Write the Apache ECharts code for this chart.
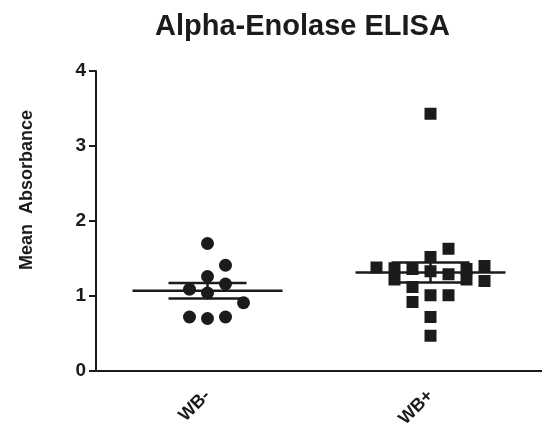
<!DOCTYPE html>
<html>
<head>
<meta charset="utf-8">
<script src="https://cdn.jsdelivr.net/npm/echarts@6/dist/echarts.min.js"></script>
<style>
  html, body { margin: 0; padding: 0; background: #fff; }
  #chart { width: 542px; height: 436px; }
</style>
</head>
<body>
<div id="chart"></div>
<script>
// values
const categories = ["WB-", "WB+"];
const wbMinus = [1.70, 1.41, 1.26, 1.16, 1.09, 1.04, 0.91, 0.72, 0.70, 0.72];
const wbPlus = [3.43, 1.63, 1.52, 1.38, 1.37, 1.22, 1.36, 1.12, 0.92, 1.33,
                1.01, 0.72, 0.47, 1.29, 1.01, 1.36, 1.22, 1.40, 1.20];
// column-scatter slot of each point (left/right of the column centre)
const wbMinusSlot = [0, 1, 0, 1, -1, 0, 2, -1, 0, 1];
const wbPlusSlot = [0, 1, 0, -3, -2, -2, -1, -1, -1, 0,
                    0, 0, 0, 1, 1, 2, 2, 3, 3];
const yTicks = [0, 1, 2, 3, 4];

const FONT = "'Liberation Sans', Arial, sans-serif";
const INK = "#1b1b1b";
const SLOT_PX = 18;

function mean(a) {
  return a.reduce(function (s, v) { return s + v; }, 0) / a.length;
}
function sem(a) {
  var m = mean(a);
  var ss = a.reduce(function (s, v) { return s + (v - m) * (v - m); }, 0);
  return Math.sqrt(ss / (a.length - 1)) / Math.sqrt(a.length);
}

function points(cat, vals, slots) {
  return vals.map(function (v, i) {
    return { value: [cat, v], symbolOffset: [slots[i] * SLOT_PX, 0] };
  });
}

var groups = [wbMinus, wbPlus];
var statData = groups.map(function (g, i) {
  return [i, mean(g), sem(g)];
});

var chart = echarts.init(document.getElementById("chart"), null, { renderer: "canvas" });

chart.setOption({
  animation: false,
  title: {
    text: "Alpha-Enolase ELISA",
    left: 155,
    top: 12,
    padding: 0,
    textStyle: { fontFamily: FONT, fontSize: 29, fontWeight: "bold", color: INK }
  },
  grid: { left: 96, top: 71, width: 448, height: 300, containLabel: false },
  xAxis: {
    type: "category",
    data: categories,
    boundaryGap: true,
    axisLine: { lineStyle: { color: INK, width: 2 } },
    axisTick: { alignWithLabel: true, length: 7, lineStyle: { color: INK, width: 2 } },
    axisLabel: {
      rotate: 45, margin: 22, color: INK,
      fontFamily: FONT, fontSize: 18, fontWeight: "bold"
    },
    splitLine: { show: false }
  },
  yAxis: {
    type: "value",
    min: yTicks[0],
    max: yTicks[yTicks.length - 1],
    interval: 1,
    name: "Mean  Absorbance",
    nameLocation: "middle",
    nameGap: 60,
    nameTextStyle: {
      fontFamily: FONT, fontSize: 18, fontWeight: "bold", color: INK,
      padding: [0, 0, 0, 62]
    },
    axisLine: { show: true, lineStyle: { color: INK, width: 2 } },
    axisTick: { show: true, length: 7, lineStyle: { color: INK, width: 2 } },
    axisLabel: { margin: 10, color: INK, fontFamily: FONT, fontSize: 19, fontWeight: "bold" },
    splitLine: { show: false }
  },
  series: [
    {
      type: "scatter",
      symbol: "circle",
      symbolSize: 13,
      itemStyle: { color: INK, opacity: 1 },
      data: points(0, wbMinus, wbMinusSlot),
      z: 2
    },
    {
      type: "scatter",
      symbol: "rect",
      symbolSize: 12,
      itemStyle: { color: INK, opacity: 1 },
      data: points(1, wbPlus, wbPlusSlot),
      z: 2
    },
    {
      // mean line with SEM error bar
      type: "custom",
      data: statData,
      z: 3,
      renderItem: function (params, api) {
        var c = api.value(0), m = api.value(1), e = api.value(2);
        var pm = api.coord([c, m]);
        var pt = api.coord([c, m + e]);
        var pb = api.coord([c, m - e]);
        var meanHalf = 75, capHalf = 39;
        var st = { stroke: INK, lineWidth: 2.5 };
        return {
          type: "group",
          children: [
            { type: "line", shape: { x1: pm[0] - meanHalf, y1: pm[1], x2: pm[0] + meanHalf, y2: pm[1] }, style: st },
            { type: "line", shape: { x1: pt[0], y1: pt[1], x2: pb[0], y2: pb[1] }, style: st },
            { type: "line", shape: { x1: pt[0] - capHalf, y1: pt[1], x2: pt[0] + capHalf, y2: pt[1] }, style: st },
            { type: "line", shape: { x1: pb[0] - capHalf, y1: pb[1], x2: pb[0] + capHalf, y2: pb[1] }, style: st }
          ]
        };
      }
    }
  ]
});
</script>
</body>
</html>
